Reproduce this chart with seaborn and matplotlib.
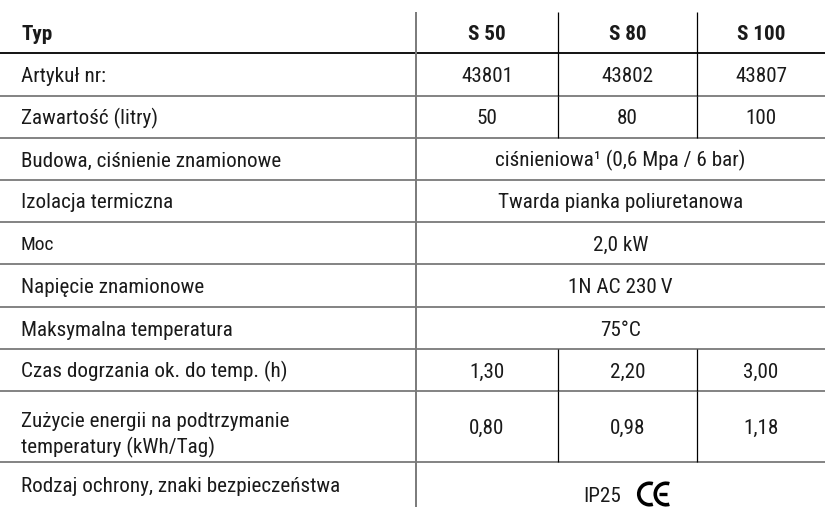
import matplotlib
matplotlib.use("Agg")
import matplotlib.pyplot as plt
from matplotlib.patches import Arc
import seaborn as sns

# table content
row_labels = [
    "Typ",
    "Artykuł nr:",
    "Zawartość (litry)",
    "Budowa, ciśnienie znamionowe",
    "Izolacja termiczna",
    "Moc",
    "Napięcie znamionowe",
    "Maksymalna temperatura",
    "Czas dogrzania ok. do temp. (h)",
    "Zużycie energii na podtrzymanie\ntemperatury (kWh/Tag)",
    "Rodzaj ochrony, znaki bezpieczeństwa",
]
types = ["S 50", "S 80", "S 100"]
article_nos = ["43801", "43802", "43807"]
capacity_l = [50, 80, 100]
pressure = "ciśnieniowa¹ (0,6 Mpa / 6 bar)"
insulation = "Twarda pianka poliuretanowa"
power = "2,0 kW"
voltage = "1N AC 230\u2009V"
max_temp = "75°C"
heatup_h = [1.30, 2.20, 3.00]
standby_kwh = [0.80, 0.98, 1.18]
protection = "IP25"

# layout (pixels)
W, H = 825, 507
row_edges = [12, 53, 96, 138, 180, 222, 264, 307, 349, 391, 462, 507]
col_edges = [0, 416, 558, 697, 825]
split_rows = [0, 1, 2, 8, 9]

sns.set_theme(style="white")
plt.rcParams["font.family"] = ["Roboto Condensed", "DejaVu Sans"]

fig = plt.figure(figsize=(W / 100, H / 100), dpi=100)
ax = fig.add_axes([0, 0, 1, 1])
ax.set_xlim(0, W)
ax.set_ylim(H, 0)
ax.axis("off")

txt = "#1a1a1a"
grid = "#7a7a7a"
fs = 15.2
cap = 15  # cap height in px at fs


def fmt(v):
    return f"{v:.2f}".replace(".", ",")


cells = {
    0: types,
    1: article_nos,
    2: [str(v) for v in capacity_l],
    3: pressure,
    4: insulation,
    5: power,
    6: voltage,
    7: max_temp,
    8: [fmt(v) for v in heatup_h],
    9: [fmt(v) for v in standby_kwh],
    10: protection,
}

# grid lines
for i, y in enumerate(row_edges[1:-1]):
    ax.hlines(y, 0, W, color="black" if i == 0 else grid, lw=1.3)
ax.vlines(col_edges[1], row_edges[0], H, color=grid, lw=1.4)
for r in split_rows:
    for x in col_edges[2:4]:
        ax.vlines(x, row_edges[r], row_edges[r + 1], color="black", lw=0.9)

last = len(row_labels) - 1
xm = (col_edges[1] + col_edges[-1]) / 2
for r, label in enumerate(row_labels):
    yc = (row_edges[r] + row_edges[r + 1]) / 2
    base = yc + cap / 2
    weight = "bold" if r == 0 else "normal"
    lines = label.split("\n")
    if len(lines) > 1:
        lbase = [yc + 0.5 + 26 * k for k in range(len(lines))]
    else:
        lbase = [base]
    for ln, b in zip(lines, lbase):
        small = ln == "Moc"
        ax.text(21, yc + 7 if small else b, ln, fontsize=14 if small else fs,
                fontweight=weight, color=txt, va="baseline", ha="left")
    val = cells[r]
    if isinstance(val, list):
        for c, v in enumerate(val):
            xc = (col_edges[c + 1] + col_edges[c + 2]) / 2
            ax.text(xc, base, v, fontsize=fs, color=txt, ha="center",
                    va="baseline", fontweight=weight)
    elif r == last:
        b = base + 10
        ax.text(xm + 0.5, b, val, fontsize=fs, color=txt, ha="right", va="baseline")
        # CE mark
        cy = b - 8
        for dx in (29, 45.5):
            ax.add_patch(Arc((xm + dx, cy), 21.5, 21.5, theta1=72, theta2=288,
                             color="black", lw=2.6))
        ax.hlines(cy, xm + 38.5, xm + 46, color="black", lw=2.4)
    else:
        ax.text(xm, base, val, fontsize=fs, color=txt, ha="center", va="baseline")

fig.savefig("out.png", dpi=100)
